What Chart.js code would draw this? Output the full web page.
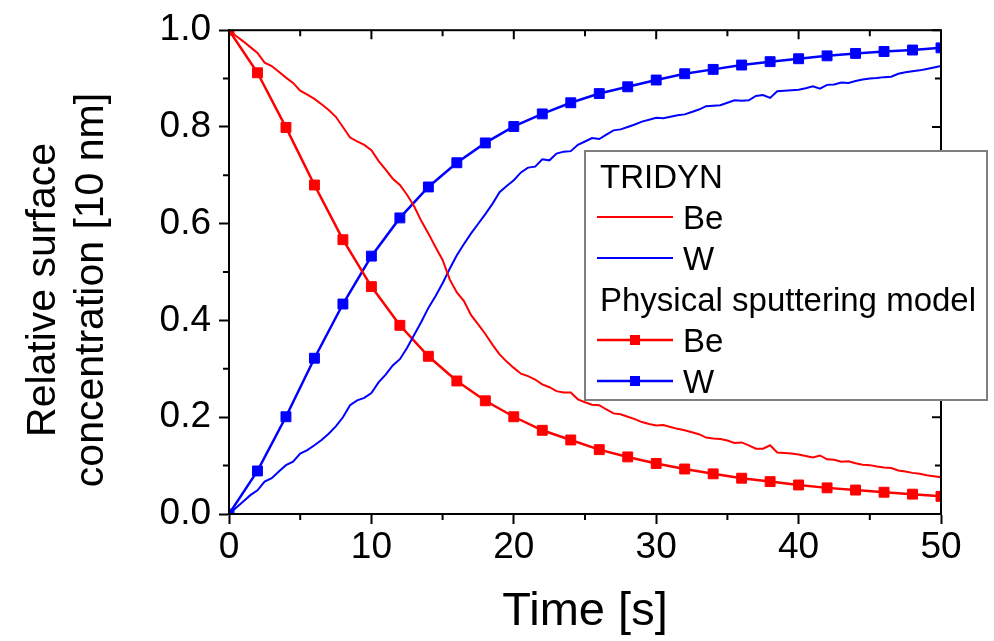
<!DOCTYPE html>
<html>
<head>
<meta charset="utf-8">
<script src="https://cdn.jsdelivr.net/npm/chart.js@4/dist/chart.umd.min.js"></script>
<style>
  html, body { margin: 0; padding: 0; background: #fff; }
  #wrap { width: 994px; height: 641px; }
</style>
</head>
<body>
<div id="wrap"><canvas id="concChart"></canvas></div>
<script>
// physical sputtering model, sampled every 2 s
var modelTime = [0, 2, 4, 6, 8, 10, 12, 14, 16, 18, 20, 22, 24, 26, 28, 30, 32, 34, 36, 38, 40, 42, 44, 46, 48, 50];
var modelBe = [1.0, 0.912, 0.799, 0.680, 0.567, 0.470, 0.390, 0.326, 0.275, 0.234, 0.201, 0.173, 0.153, 0.133, 0.118, 0.1045,
    0.093, 0.083, 0.074, 0.067, 0.060, 0.054, 0.0495, 0.045, 0.041, 0.0365];
var modelW = [0, 0.089, 0.201, 0.322, 0.434, 0.533, 0.612, 0.676, 0.726, 0.767, 0.801, 0.827, 0.850, 0.869, 0.883, 0.897,
    0.910, 0.919, 0.928, 0.935, 0.941, 0.947, 0.952, 0.956, 0.959, 0.9635];

// TRIDYN output, every 0.5 s
var tridynTime = [
    0, 0.5, 1, 1.5, 2, 2.5, 3, 3.5, 4, 4.5,
    5, 5.5, 6, 6.5, 7, 7.5, 8, 8.5, 9, 9.5,
    10, 10.5, 11, 11.5, 12, 12.5, 13, 13.5, 14, 14.5,
    15, 15.5, 16, 16.5, 17, 17.5, 18, 18.5, 19, 19.5,
    20, 20.5, 21, 21.5, 22, 22.5, 23, 23.5, 24, 24.5,
    25, 25.5, 26, 26.5, 27, 27.5, 28, 28.5, 29, 29.5,
    30, 30.5, 31, 31.5, 32, 32.5, 33, 33.5, 34, 34.5,
    35, 35.5, 36, 36.5, 37, 37.5, 38, 38.5, 39, 39.5,
    40, 40.5, 41, 41.5, 42, 42.5, 43, 43.5, 44, 44.5,
    45, 45.5, 46, 46.5, 47, 47.5, 48, 48.5, 49, 49.5,
    50];
var tridynBe = [
    1.0, 0.988, 0.977, 0.965, 0.953, 0.933, 0.926, 0.914, 0.902, 0.891,
    0.875, 0.867, 0.858, 0.847, 0.835, 0.821, 0.800, 0.778, 0.770, 0.763,
    0.752, 0.730, 0.712, 0.693, 0.680, 0.660, 0.636, 0.606, 0.580, 0.552,
    0.525, 0.485, 0.458, 0.440, 0.411, 0.392, 0.372, 0.350, 0.330, 0.315,
    0.302, 0.290, 0.285, 0.278, 0.268, 0.262, 0.254, 0.251, 0.251, 0.237,
    0.231, 0.226, 0.225, 0.216, 0.208, 0.206, 0.201, 0.196, 0.190, 0.186,
    0.183, 0.184, 0.180, 0.176, 0.173, 0.169, 0.165, 0.158, 0.156, 0.155,
    0.152, 0.147, 0.148, 0.142, 0.135, 0.135, 0.142, 0.127, 0.126, 0.125,
    0.123, 0.120, 0.117, 0.121, 0.113, 0.112, 0.108, 0.109, 0.105, 0.102,
    0.101, 0.098, 0.096, 0.095, 0.090, 0.088, 0.085, 0.083, 0.080, 0.078,
    0.076];
var tridynW = [
    0, 0.013, 0.026, 0.039, 0.049, 0.067, 0.074, 0.088, 0.101, 0.108,
    0.125, 0.132, 0.142, 0.153, 0.166, 0.181, 0.200, 0.225, 0.235, 0.240,
    0.250, 0.272, 0.288, 0.307, 0.320, 0.343, 0.370, 0.397, 0.426, 0.450,
    0.477, 0.507, 0.535, 0.558, 0.580, 0.600, 0.620, 0.641, 0.665, 0.678,
    0.690, 0.706, 0.716, 0.718, 0.733, 0.731, 0.745, 0.749, 0.750, 0.763,
    0.770, 0.777, 0.775, 0.784, 0.793, 0.795, 0.800, 0.805, 0.811, 0.815,
    0.819, 0.818, 0.821, 0.824, 0.826, 0.831, 0.836, 0.843, 0.844, 0.845,
    0.850, 0.855, 0.854, 0.855, 0.864, 0.866, 0.860, 0.874, 0.875, 0.876,
    0.877, 0.880, 0.884, 0.879, 0.887, 0.888, 0.892, 0.891, 0.895, 0.898,
    0.900, 0.901, 0.903, 0.904, 0.910, 0.913, 0.915, 0.917, 0.920, 0.923,
    0.926];

var legendGroups = ['TRIDYN', 'Physical sputtering model'];
var yTitleLines = ['Relative surface', 'concentration [10 nm]'];
var xTicks = [0, 10, 20, 30, 40, 50];
var yTicks = [0.0, 0.2, 0.4, 0.6, 0.8, 1.0];

var RED = '#ff0000';
var BLUE = '#0000ff';
var FONT = 'Arial, "Liberation Sans", sans-serif';

function pairs(xs, ys) {
    return xs.map(function (t, i) { return { x: t, y: ys[i] }; });
}

// frame on all four sides, minor ticks, and inward ticks on top/right
var axisFrame = {
    id: 'axisFrame',
    afterDatasetsDraw: function (chart) {
        var ctx = chart.ctx, a = chart.chartArea;
        var x = chart.scales.x, y = chart.scales.y;
        ctx.save();
        ctx.strokeStyle = '#000';
        ctx.lineWidth = 2;
        ctx.strokeRect(a.left, a.top, a.right - a.left, a.bottom - a.top);
        ctx.beginPath();
        for (var t = 0; t <= 50; t += 5) {
            var px = x.getPixelForValue(t);
            var major = t % 10 === 0;
            if (!major) {
                ctx.moveTo(px, a.bottom);
                ctx.lineTo(px, a.bottom + 6);
            }
            ctx.moveTo(px, a.top);
            ctx.lineTo(px, a.top + (major ? 9 : 6));
        }
        for (var k = 0; k <= 10; k++) {
            var py = y.getPixelForValue(k / 10);
            var ymajor = k % 2 === 0;
            if (!ymajor) {
                ctx.moveTo(a.left, py);
                ctx.lineTo(a.left - 6, py);
            }
            ctx.moveTo(a.right, py);
            ctx.lineTo(a.right - (ymajor ? 9 : 6), py);
        }
        ctx.stroke();
        ctx.restore();
    }
};

// two-line rotated y title
var yTitle = {
    id: 'yTitle',
    afterDraw: function (chart, args, opts) {
        var ctx = chart.ctx;
        ctx.save();
        ctx.translate(opts.x, opts.centerY);
        ctx.rotate(-Math.PI / 2);
        ctx.font = opts.fontSize + 'px ' + FONT;
        ctx.fillStyle = '#000';
        ctx.textAlign = 'center';
        ctx.textBaseline = 'alphabetic';
        yTitleLines.forEach(function (line, i) {
            ctx.fillText(line, 0, i * opts.lineGap);
        });
        ctx.restore();
    }
};

// boxed legend sitting over the plot, grouped by data source
var groupedLegend = {
    id: 'groupedLegend',
    afterDraw: function (chart, args, opts) {
        var ctx = chart.ctx;
        ctx.save();
        ctx.fillStyle = '#fff';
        ctx.fillRect(opts.left, opts.top, opts.width, opts.height);
        ctx.strokeStyle = '#7f7f7f';
        ctx.lineWidth = 2;
        ctx.strokeRect(opts.left, opts.top, opts.width, opts.height);

        ctx.font = opts.fontSize + 'px ' + FONT;
        ctx.textBaseline = 'alphabetic';
        ctx.textAlign = 'left';
        var base = opts.firstBaseline;
        legendGroups.forEach(function (name, g) {
            ctx.fillStyle = '#000';
            ctx.fillText(name, opts.left + 15, base);
            base += opts.rowHeight;
            chart.data.datasets.forEach(function (ds) {
                if (ds.group !== g) return;
                var ly = base - 12;
                var x0 = opts.left + 12, x1 = opts.left + 88;
                ctx.strokeStyle = ds.borderColor;
                ctx.lineWidth = ds.borderWidth;
                ctx.beginPath();
                ctx.moveTo(x0, ly);
                ctx.lineTo(x1, ly);
                ctx.stroke();
                if (ds.pointRadius > 0) {
                    ctx.fillStyle = ds.pointBackgroundColor;
                    ctx.fillRect((x0 + x1) / 2 - 5, ly - 5, 10, 10);
                }
                ctx.fillStyle = '#000';
                ctx.fillText(ds.label, opts.left + 98, base);
                base += opts.rowHeight;
            });
        });
        ctx.restore();
    }
};

var lineDatasets = [
    {
        label: 'Be', group: 0,
        data: pairs(tridynTime, tridynBe),
        borderColor: RED, borderWidth: 2, pointRadius: 0
    },
    {
        label: 'W', group: 0,
        data: pairs(tridynTime, tridynW),
        borderColor: BLUE, borderWidth: 2, pointRadius: 0
    },
    {
        label: 'Be', group: 1,
        data: pairs(modelTime, modelBe),
        borderColor: RED, borderWidth: 2.5,
        pointStyle: 'rect', pointRadius: 7, pointBorderWidth: 1,
        pointBackgroundColor: RED, pointBorderColor: RED
    },
    {
        label: 'W', group: 1,
        data: pairs(modelTime, modelW),
        borderColor: BLUE, borderWidth: 2.5,
        pointStyle: 'rect', pointRadius: 7, pointBorderWidth: 1,
        pointBackgroundColor: BLUE, pointBorderColor: BLUE
    }
];

Chart.defaults.font.family = FONT;
Chart.defaults.color = '#000';

var ctx = document.getElementById('concChart').getContext('2d');
new Chart(ctx, {
    type: 'line',
    data: { datasets: lineDatasets },
    options: {
        responsive: true,
        maintainAspectRatio: false,
        animation: false,
        layout: { padding: { left: 0, top: 29, right: 53, bottom: 0 } },
        elements: { line: { tension: 0 } },
        plugins: {
            legend: { display: false },
            tooltip: { enabled: false },
            yTitle: { x: 55, centerY: 290, fontSize: 41, lineGap: 48 },
            groupedLegend: {
                left: 585, top: 151, width: 402, height: 249,
                fontSize: 33, firstBaseline: 188, rowHeight: 41
            }
        },
        scales: {
            x: {
                type: 'linear',
                min: 0, max: 50,
                afterBuildTicks: function (scale) {
                    scale.ticks = xTicks.map(function (v) { return { value: v }; });
                },
                afterFit: function (scale) { scale.height = 127; },
                ticks: { font: { size: 37 }, padding: 2, maxRotation: 0 },
                grid: {
                    display: true, drawOnChartArea: false, drawTicks: true,
                    tickLength: 10, tickWidth: 2, tickColor: '#000'
                },
                border: { display: true, width: 2, color: '#000' },
                title: {
                    display: true, text: 'Time [s]',
                    font: { size: 47 }, padding: { top: 0, bottom: 1 }
                }
            },
            y: {
                min: 0, max: 1,
                afterBuildTicks: function (scale) {
                    scale.ticks = yTicks.map(function (v) { return { value: v }; });
                },
                afterFit: function (scale) { scale.width = 229; },
                ticks: {
                    font: { size: 37 }, padding: 8,
                    callback: function (v) { return v.toFixed(1); }
                },
                grid: {
                    display: true, drawOnChartArea: false, drawTicks: true,
                    tickLength: 10, tickWidth: 2, tickColor: '#000'
                },
                border: { display: true, width: 2, color: '#000' }
            }
        }
    },
    plugins: [axisFrame, yTitle, groupedLegend]
});
</script>
</body>
</html>
